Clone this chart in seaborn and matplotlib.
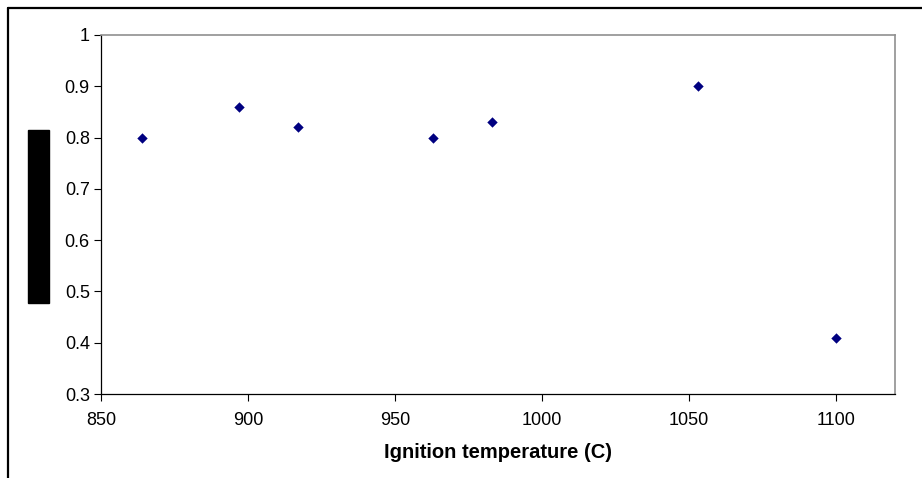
import seaborn as sns
import pandas as pd
import matplotlib
matplotlib.use('Agg')
import matplotlib.pyplot as plt
from matplotlib.lines import Line2D
from matplotlib.patches import Rectangle

# values
ignition_temp = [864, 897, 917, 963, 983, 1053, 1100]
ratio = [0.80, 0.86, 0.82, 0.80, 0.83, 0.90, 0.41]
x_ticks = [850, 900, 950, 1000, 1050, 1100]
y_ticks = [0.3, 0.4, 0.5, 0.6, 0.7, 0.8, 0.9, 1]
y_tick_labels = ['0.3', '0.4', '0.5', '0.6', '0.7', '0.8', '0.9', '1']

sns.set_theme(style='white')
plt.rcParams['font.family'] = ['Liberation Sans', 'DejaVu Sans']
plt.rcParams['text.color'] = 'black'
plt.rcParams['axes.labelcolor'] = 'black'

df = pd.DataFrame({'temp': ignition_temp, 'ratio': ratio})

fig = plt.figure(figsize=(9.22, 4.78), dpi=100)
ax = fig.add_axes([0.1095, 0.1757, 0.8612, 0.7511])

# Plot scatter
sns.scatterplot(data=df, x='temp', y='ratio', ax=ax, marker='D',
                color='#000080', edgecolor='#000080', s=28, linewidth=0)

ax.set_xlim(850, 1120)
ax.set_ylim(0.3, 1)
ax.set_xticks(x_ticks)
ax.set_yticks(y_ticks)
ax.set_yticklabels(y_tick_labels)
ax.tick_params(axis='both', direction='out', length=5, width=0.8,
               colors='black', labelcolor='black', labelsize=13, pad=3,
               left=True, bottom=True)
ax.tick_params(axis='x', pad=8)

for side in ['left', 'bottom']:
    ax.spines[side].set_color('black')
    ax.spines[side].set_linewidth(0.9)
for side in ['top', 'right']:
    ax.spines[side].set_color('#909090')
    ax.spines[side].set_linewidth(1.2)

ax.set_xlabel('Ignition temperature (C)', fontsize=14.5, fontweight='bold',
              color='black', labelpad=10)
ax.set_ylabel('')

# redacted y-axis title block
fig.patches.append(Rectangle((28 / 922, 1 - 303 / 478), 21 / 922, 173 / 478,
                             transform=fig.transFigure, color='black'))

# chart border (top and left edges)
fig.lines.append(Line2D([7.5 / 922, 1], [1 - 7.5 / 478, 1 - 7.5 / 478],
                        transform=fig.transFigure, color='black', lw=1.6))
fig.lines.append(Line2D([7.5 / 922, 7.5 / 922], [0, 1 - 7.5 / 478],
                        transform=fig.transFigure, color='black', lw=1.6))

fig.savefig('out.png', dpi=100, facecolor='white')
plt.close(fig)
